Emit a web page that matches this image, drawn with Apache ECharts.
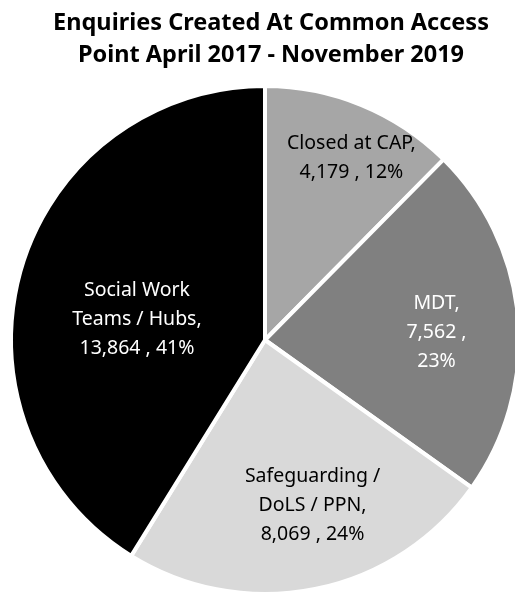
<!DOCTYPE html>
<html style="height: 100%">
<head>
<meta charset="utf-8">
<script src="https://cdn.jsdelivr.net/npm/echarts@6/dist/echarts.min.js"></script>
</head>
<body style="height: 100%; margin: 0; background: #fff">
<div id="container" style="width: 515px; height: 595px;"></div>
<script type="text/javascript">
// 数据
var categories = ['Closed at CAP', 'MDT', 'Safeguarding /\nDoLS / PPN', 'Social Work\nTeams / Hubs'];
var values = [4179, 7562, 8069, 13864];
var colors = ['#a6a6a6', '#808080', '#d9d9d9', '#000000'];
var textColors = ['#000000', '#ffffff', '#000000', '#ffffff'];
var labelOffsets = [[37, -62], [42, 4], [22, 38], [-3, 15]];
var breakAfterValue = [false, true, false, false];

function fmt(n) {
	return n.toString().replace(/\B(?=(\d{3})+(?!\d))/g, ',');
}

var dom = document.getElementById("container");
var myChart = echarts.init(dom);
var option = null;

var pieData = [];
for (var i = 0; i < categories.length; i++) {
	pieData.push({
		name : categories[i],
		value : values[i],
		itemStyle : { color : colors[i] },
		label : {
			color : textColors[i],
			offset : labelOffsets[i]
		}
	});
}

option = {
	title : {
		text : 'Enquiries Created At Common Access\nPoint April 2017 - November 2019',
		left : 266,
		textAlign : 'center',
		top : 2,
		textStyle : {
			fontFamily : 'Noto Sans',
			fontWeight : 'bold',
			fontSize : 23.5,
			lineHeight : 32,
			color : '#000'
		}
	},
	series : [ {
		type : 'pie',
		center : [265, 340],
		radius : [0, 254],
		startAngle : 90,
		clockwise : true,
		avoidLabelOverlap : false,
		percentPrecision : 0,
		itemStyle : {
			borderColor : '#fff',
			borderWidth : 4
		},
		label : {
			show : true,
			position : 'inside',
			fontFamily : 'Noto Sans',
			fontSize : 19.5,
			lineHeight : 29,
			align : 'center',
			formatter : function (p) {
				var sep = breakAfterValue[p.dataIndex] ? ' ,\n' : ' , ';
				return p.name + ',\n' + fmt(p.value) + sep + p.percent + '%';
			}
		},
		labelLine : { show : false },
		emphasis : { disabled : true },
		animation : false,
		data : pieData
	} ]
};
if (option && typeof option === "object") {
	myChart.setOption(option, true);
}
</script>
</body>
</html>
